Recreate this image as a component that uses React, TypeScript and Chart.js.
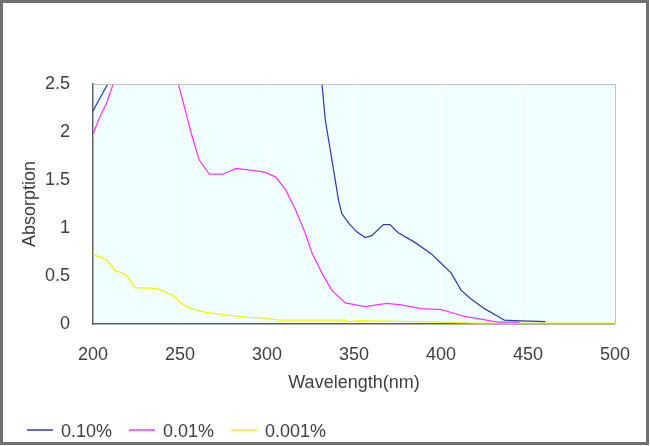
import React, { useEffect, useRef } from "react";
import { Chart, registerables } from "chart.js";

Chart.register(...registerables);

const xTicks = [200, 250, 300, 350, 400, 450, 500];
const yTicks = [0, 0.5, 1, 1.5, 2, 2.5];

const seriesLabels = ["0.10%", "0.01%", "0.001%"];
const seriesColors = ["#2f3fa8", "#ff33ff", "#f5f500"];

const blueX = [200, 203, 206, 208.5, 212, 328, 331.6, 333.5, 336.4, 338.3, 341.1, 343, 346.9, 351.6, 356.4, 360.2, 366.9, 370.7, 375.4, 385, 394.5, 400.2, 405.9, 411.6, 417.3, 425, 432.6, 436.4, 442, 460];
const blueY = [2.22, 2.32, 2.42, 2.5, 2.8, 2.8, 2.5, 2.125, 1.81, 1.6, 1.29, 1.15, 1.05, 0.96, 0.9, 0.92, 1.035, 1.035, 0.95, 0.85, 0.73, 0.63, 0.53, 0.35, 0.26, 0.16, 0.08, 0.04, 0.035, 0.025];

const pinkX = [200, 204, 207.8, 211.6, 214, 247, 249, 252.6, 256.4, 261, 266.9, 274.5, 282.1, 291.6, 299.3, 305, 310.7, 316.4, 322.1, 325.9, 331.6, 337.3, 345, 356.4, 368.8, 377.3, 388.7, 400.2, 405.9, 413.5, 423, 432.6, 445];
const pinkY = [1.98, 2.16, 2.3, 2.5, 2.8, 2.8, 2.5, 2.26, 1.99, 1.71, 1.56, 1.56, 1.62, 1.6, 1.58, 1.53, 1.4, 1.19, 0.94, 0.74, 0.53, 0.35, 0.22, 0.18, 0.215, 0.2, 0.16, 0.15, 0.12, 0.08, 0.05, 0.02, 0.02];

const yellowX = [200, 204, 207.8, 212.6, 219.2, 224, 236.4, 245.9, 250.7, 256.4, 265, 276.4, 289.7, 299, 306.9, 345, 347, 352, 400, 420, 500];
const yellowY = [0.72, 0.7, 0.67, 0.56, 0.51, 0.38, 0.37, 0.3, 0.215, 0.16, 0.12, 0.094, 0.07, 0.06, 0.04, 0.04, 0.025, 0.035, 0.02, 0.01, 0.01];

const FONT = '"Liberation Sans", Arial, sans-serif';
const TEXT = "#404040";

const toPoints = (xs: number[], ys: number[]) => xs.map((x, i) => ({ x, y: ys[i] }));

const framePlugin = {
  id: "frame",
  beforeDraw(chart: any) {
    const { ctx, chartArea: a, width, height } = chart;
    ctx.save();
    ctx.fillStyle = "#ffffff";
    ctx.fillRect(0, 0, width, height);
    ctx.fillStyle = "#f0ffff";
    ctx.fillRect(a.left, a.top, a.right - a.left, a.bottom - a.top);
    ctx.restore();
  },
  afterDatasetsDraw(chart: any) {
    const { ctx, chartArea: a } = chart;
    ctx.save();
    ctx.strokeStyle = "#c0c0c0";
    ctx.lineWidth = 1;
    ctx.beginPath();
    ctx.moveTo(a.left, a.top + 0.5);
    ctx.lineTo(a.right + 0.5, a.top + 0.5);
    ctx.lineTo(a.right + 0.5, a.bottom);
    ctx.stroke();
    ctx.restore();
  },
  afterDraw(chart: any) {
    const { ctx, width, height } = chart;
    ctx.save();
    ctx.strokeStyle = "#707070";
    ctx.lineWidth = 3;
    ctx.strokeRect(1.5, 1.5, width - 4, height - 4);
    ctx.font = `18px ${FONT}`;
    ctx.textBaseline = "middle";
    ctx.textAlign = "left";
    let x = 27;
    const y = 430;
    chart.data.datasets.forEach((ds: any) => {
      ctx.strokeStyle = ds.borderColor;
      ctx.lineWidth = 1.5;
      ctx.beginPath();
      ctx.moveTo(x, y);
      ctx.lineTo(x + 26, y);
      ctx.stroke();
      x += 34;
      ctx.fillStyle = TEXT;
      ctx.fillText(ds.label, x, y + 2);
      x += ctx.measureText(ds.label).width + 17;
    });
    ctx.restore();
  },
};

export default function App() {
  const ref = useRef<HTMLCanvasElement | null>(null);

  useEffect(() => {
    if (!ref.current) return;
    const series = [toPoints(blueX, blueY), toPoints(pinkX, pinkY), toPoints(yellowX, yellowY)];
    const chart = new Chart(ref.current, {
      type: "line",
      data: {
        datasets: series.map((data, i) => ({
          label: seriesLabels[i],
          data,
          borderColor: seriesColors[i],
          backgroundColor: seriesColors[i],
          borderWidth: 1.25,
          pointRadius: 0,
          tension: 0,
          fill: false,
        })),
      },
      options: {
        responsive: false,
        animation: false,
        devicePixelRatio: 1,
        layout: { padding: { top: 84, right: 32, left: 0, bottom: 46 } },
        plugins: { legend: { display: false }, tooltip: { enabled: false } },
        scales: {
          x: {
            type: "linear",
            min: 200,
            max: 500,
            afterFit: (s: any) => { s.height = 76; },
            afterBuildTicks: (s: any) => { s.ticks = xTicks.map((v) => ({ value: v })); },
            ticks: { font: { size: 18, family: FONT }, color: TEXT, padding: 20, callback: (v: any) => String(v) },
            grid: { color: "#ffffff", lineWidth: 1, drawTicks: false },
            border: { color: "#606060", width: 1.5 },
            title: { display: true, text: "Wavelength(nm)", font: { size: 18, family: FONT }, color: TEXT, padding: { top: 0, bottom: 6 } },
          },
          y: {
            min: 0,
            max: 2.5,
            afterFit: (s: any) => { s.width = 93; },
            afterBuildTicks: (s: any) => { s.ticks = yTicks.map((v) => ({ value: v })); },
            ticks: { font: { size: 18, family: FONT }, color: TEXT, padding: 15, callback: (v: any) => String(v) },
            grid: { display: false },
            border: { color: "#606060", width: 1.5 },
            title: { display: true, text: "Absorption", font: { size: 18, family: FONT }, color: TEXT, padding: { top: 19, bottom: 0 } },
          },
        },
      },
      plugins: [framePlugin],
    });
    return () => chart.destroy();
  }, []);

  return (
    <div style={{ position: "fixed", left: 0, top: 0, width: 650, height: 446 }}>
      <canvas ref={ref} width={650} height={446} style={{ display: "block", width: 650, height: 446 }} />
    </div>
  );
}
